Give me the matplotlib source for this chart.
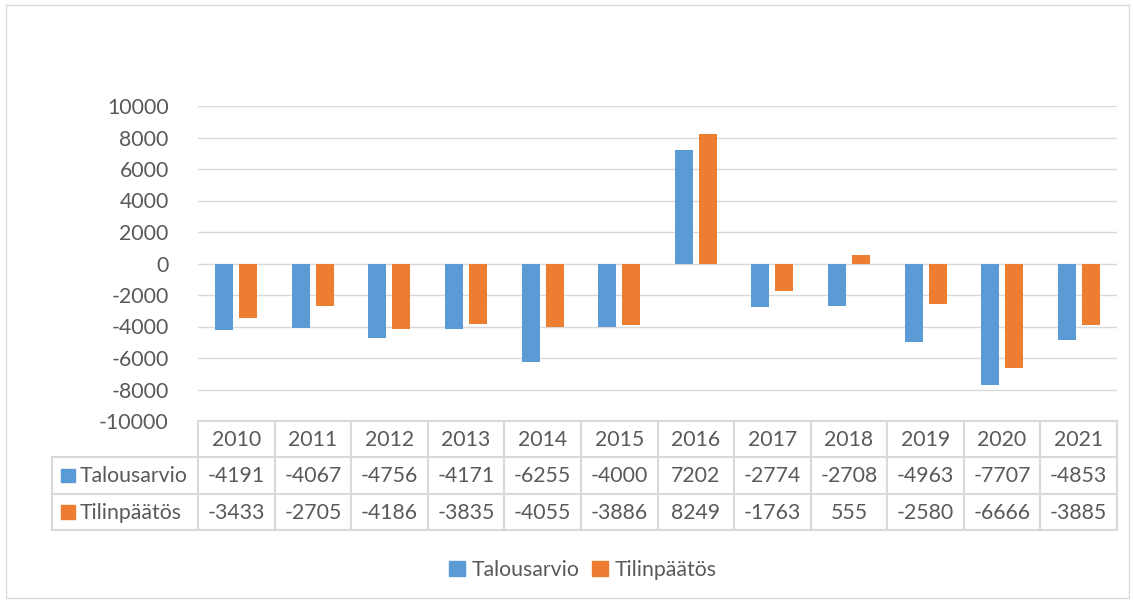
import matplotlib.pyplot as plt
import numpy as np
from matplotlib.patches import Patch, Rectangle

plt.rcParams['font.family'] = ['Lato', 'DejaVu Sans']
plt.rcParams['axes.unicode_minus'] = False

years = ['2010', '2011', '2012', '2013', '2014', '2015', '2016', '2017', '2018', '2019', '2020', '2021']
talousarvio = [-4191, -4067, -4756, -4171, -6255, -4000, 7202, -2774, -2708, -4963, -7707, -4853]
tilinpaatos = [-3433, -2705, -4186, -3835, -4055, -3886, 8249, -1763, 555, -2580, -6666, -3885]
series_names = ['Talousarvio', 'Tilinpäätös']

blue = '#5B9BD5'
orange = '#ED7D31'
txt = '#595959'
grid = '#D9D9D9'
fs = 15.3
W, H = 1133, 603

fig = plt.figure(figsize=(W / 100, H / 100), dpi=100)
fig.add_artist(Rectangle((6 / W, 5 / H), (W - 10) / W, (H - 10) / H, transform=fig.transFigure,
                         fill=False, edgecolor=grid, lw=1))

# plot area
x0, x1, ytop, ybot = 198, 1117, 106, 421
ax = fig.add_axes([x0 / W, 1 - ybot / H, (x1 - x0) / W, (ybot - ytop) / H])
x = np.arange(len(years))
bw = 0.235
ax.bar(x - 0.157, talousarvio, bw, color=blue, zorder=3)
ax.bar(x + 0.157, tilinpaatos, bw, color=orange, zorder=3)
ax.set_xlim(-0.5, len(years) - 0.5)
ax.set_ylim(-10000, 10000)
ax.set_yticks(np.arange(-10000, 10001, 2000))
ax.set_xticks([])
ax.tick_params(axis='y', length=0, pad=21, labelsize=fs, labelcolor=txt)
ax.grid(axis='y', color=grid, lw=1, zorder=0)
for s in ax.spines.values():
    s.set_visible(False)

# data table
tx0, tbot = 52, 530
cw = (x1 - x0) / len(years)
left = -0.5 - (x0 - tx0) / cw
tab = fig.add_axes([tx0 / W, 1 - tbot / H, (x1 - tx0) / W, (tbot - ybot) / H])
tab.set_xlim(left, len(years) - 0.5)
tab.set_ylim(3, 0)
tab.axis('off')
lc = dict(color=grid, lw=1.5, clip_on=False)
tab.plot([-0.5, len(years) - 0.5], [0, 0], **lc)
for yy in [1, 2, 3]:
    tab.plot([left, len(years) - 0.5], [yy, yy], **lc)
for xx in np.arange(-0.5, len(years), 1.0):
    tab.plot([xx, xx], [0, 3], **lc)
tab.plot([left, left], [1, 3], **lc)
for i, yr in enumerate(years):
    tab.text(i, 0.52, yr, ha='center', va='center', fontsize=fs, color=txt)
    tab.text(i, 1.52, str(talousarvio[i]), ha='center', va='center', fontsize=fs, color=txt)
    tab.text(i, 2.52, str(tilinpaatos[i]), ha='center', va='center', fontsize=fs, color=txt)
sq = 14 / cw
for r, (name, c) in enumerate(zip(series_names, [blue, orange])):
    tab.add_patch(Rectangle((left + 9 / cw, r + 1.5 - 0.19), sq, 0.38, color=c))
    tab.text(left + 28 / cw, r + 1.52, name, ha='left', va='center', fontsize=fs, color=txt)

handles = [Patch(color=blue, label=series_names[0]), Patch(color=orange, label=series_names[1])]
fig.legend(handles=handles, loc='center', bbox_to_anchor=(583 / W, 1 - 570 / H), ncol=2,
           frameon=False, fontsize=fs, labelcolor=txt, handlelength=0.75, handleheight=0.75,
           handletextpad=0.3, columnspacing=0.6)

fig.savefig('out.png', dpi=100)
